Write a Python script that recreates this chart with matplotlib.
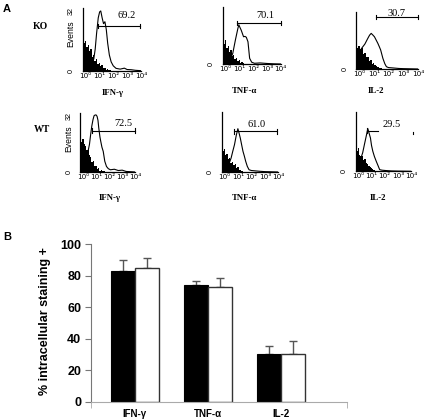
import matplotlib
matplotlib.use('Agg')
import matplotlib.pyplot as plt
import numpy as np

# ---------------- data ----------------
# Panel A: flow histograms (x in log10 decades, y in events, 0-32)
FILL_X = [-0.2, -0.1, 0.0, 0.1, 0.2, 0.3, 0.4, 0.5, 0.6, 0.7, 0.8, 0.9,
          1.0, 1.1, 1.2, 1.3, 1.4, 1.5, 1.6, 1.7, 1.8, 1.9]

KO_IFN_open_x = [-0.2, 0.1, 0.4, 0.6, 0.7, 0.8, 0.92, 1.02, 1.1, 1.2, 1.3, 1.4, 1.5,
                 1.6, 1.72, 1.85, 2.0, 2.2, 2.5, 2.8, 3.0, 3.3, 3.6, 4.0]
KO_IFN_open_y = [8, 5, 3, 6, 11, 19, 27, 30, 30.5, 27, 24, 25, 21,
                 14, 8, 4.5, 2.5, 1.2, 0.8, 1.3, 0.6, 0.5, 0.2, 0]
KO_IFN_fill = [16, 14, 15, 12, 13, 10, 11, 7, 8, 5, 6, 3.5, 4, 2.5, 3, 1.5, 1.2, 0.5,
               0.8, 0.3, 0.2, 0]

KO_TNF_open_x = [-0.2, 0.1, 0.35, 0.53, 0.72, 0.9, 0.97, 1.05, 1.14, 1.31, 1.42, 1.51,
                 1.63, 1.75, 1.9, 2.1, 2.5, 3.0, 3.5, 4.0]
KO_TNF_open_y = [8, 4, 2.5, 6, 13.5, 20, 22, 20.5, 19, 15.3, 15.5, 15,
                 12.5, 3.2, 1, 0.4, 0.6, 0.3, 0.1, 0]
KO_TNF_fill = [13, 11, 13.5, 9, 10, 7, 8, 4.5, 5, 3, 3.5, 1.5, 2, 0.8, 1, 0.3, 0.2, 0,
               0, 0, 0, 0]

KO_IL2_open_x = [-0.2, 0.0, 0.18, 0.4, 0.6, 0.72, 0.83, 0.95, 1.05, 1.15, 1.28, 1.38,
                 1.47, 1.62, 1.75, 1.86, 2.0, 2.3, 2.7, 3.0, 4.0]
KO_IL2_open_y = [8, 9, 11.6, 14, 17.2, 19, 20, 19, 18.1, 16.5, 14.4, 12.5,
                 10.7, 6, 3, 1.3, 0.8, 0.6, 0.3, 0.2, 0]
KO_IL2_fill = [14, 12, 13, 11, 12, 8.5, 9, 6.5, 7, 4.5, 5, 3, 3.5, 2, 1.5, 1, 0.5, 0.6,
               0.2, 0, 0, 0]

WT_IFN_open_x = [-0.2, 0.1, 0.25, 0.39, 0.5, 0.59, 0.68, 0.77, 0.85, 0.9, 1.0, 1.08,
                 1.15, 1.21, 1.3, 1.36, 1.45, 1.55, 1.67, 1.8, 1.94, 2.1, 2.4, 2.7,
                 3.0, 3.3, 4.0]
WT_IFN_open_y = [6, 5, 7, 11.2, 15, 20.3, 25, 28.4, 30.5, 30.8, 31, 30.2,
                 28, 23.9, 19, 16.7, 13.5, 11.2, 5.8, 3, 1.8, 1.2, 1.5, 0.8,
                 1, 0.3, 0]
WT_IFN_fill = [17.5, 16, 18, 15, 14, 12, 12.5, 9, 8, 5.5, 6, 3, 3.5, 1.5, 2, 0.8, 1,
               0.3, 0.5, 0.2, 0, 0]

WT_TNF_open_x = [-0.2, 0.1, 0.3, 0.5, 0.62, 0.75, 0.88, 1.0, 1.08, 1.18, 1.28, 1.38,
                 1.48, 1.58, 1.7, 1.83, 2.0, 2.3, 2.6, 3.0, 4.0]
WT_TNF_open_y = [7, 4, 3.5, 7.5, 11, 14.6, 19.5, 23.1, 21, 18.1, 14.5, 11,
                 8.5, 5.7, 3, 1.2, 0.8, 0.6, 0.4, 0.2, 0]
WT_TNF_fill = [13, 11, 12, 9, 9.5, 7, 7.5, 5, 5.5, 3.5, 4, 2, 2.5, 1, 1.2, 0.4, 0.2, 0,
               0, 0, 0, 0]

WT_IL2_open_x = [-0.2, 0.0, 0.2, 0.33, 0.46, 0.6, 0.72, 0.8, 0.92, 1.0, 1.1, 1.22,
                 1.36, 1.5, 1.62, 1.8, 2.1, 2.5, 3.0, 4.0]
WT_IL2_open_y = [8, 6, 7.2, 10, 14.4, 19, 23, 21, 18, 14, 10.8, 8,
                 5.4, 3, 0.9, 0.6, 0.4, 0.2, 0.1, 0]
WT_IL2_fill = [13, 11, 12.5, 9, 8, 8.5, 6, 6.5, 4.5, 4, 3, 2.5, 1.8, 1.2, 0.8, 0.4,
               0.2, 0, 0, 0, 0, 0]

GATE_PCT = ['69.2', '70.1', '30.7', '72.5', '61.0', '29.5']
GATE_START = [0.92, 0.85, 1.17, 0.71, 0.68, 0.67]
GATE_END = [3.95, 4.0, 3.98, 3.96, 3.93, 1.48]
GATE_LEVEL = [22.8, 22.9, 29.0, 22.4, 21.7, 21.9]
HIST_XTICKS = ['10⁰', '10¹', '10²', '10³', '10⁴']
ROW_LABELS = ['KO', 'WT']
MARKERS = ['IFN-γ', 'TNF-α', 'IL-2']

# Panel B: bar chart
CATS = ['IFN-γ', 'TNF-α', 'IL-2']
KO_MEAN = [82.9, 73.8, 30.0]
KO_ERR = [6.7, 2.5, 5.3]
WT_MEAN = [84.6, 73.0, 30.5]
WT_ERR = [6.7, 5.7, 8.2]
Y_TICKS = [0, 20, 40, 60, 80, 100]

# ---------------- figure ----------------
W, H = 430, 419
fig = plt.figure(figsize=(W / 100, H / 100), dpi=100)

SERIF = 'Liberation Serif'
SANS = 'Liberation Sans'


def px_axes(x0, y0, x1, y1):
    return fig.add_axes([x0 / W, 1 - y1 / H, (x1 - x0) / W, (y1 - y0) / H])


def ftext(x, y, s, **kw):
    fig.text(x / W, 1 - y / H, s, **kw)


hist_boxes = [
    (82.7, 8, 141, 70.7),
    (222.7, 7, 280.7, 64),
    (356, 12, 418, 69),
    (80.3, 113, 135.3, 172),
    (221.7, 112, 278.3, 172),
    (355.7, 112, 411, 171.3),
]
hist_data = [
    (KO_IFN_open_x, KO_IFN_open_y, KO_IFN_fill),
    (KO_TNF_open_x, KO_TNF_open_y, KO_TNF_fill),
    (KO_IL2_open_x, KO_IL2_open_y, KO_IL2_fill),
    (WT_IFN_open_x, WT_IFN_open_y, WT_IFN_fill),
    (WT_TNF_open_x, WT_TNF_open_y, WT_TNF_fill),
    (WT_IL2_open_x, WT_IL2_open_y, WT_IL2_fill),
]
label_pos = [(2.95, 28.0), (2.9, 27.3), (2.55, 31.0), (3.1, 26.3), (2.4, 25.4), (2.55, 25.4)]

for i, (box, (ox, oy, fy)) in enumerate(zip(hist_boxes, hist_data)):
    ax = px_axes(*box)
    ax.set_xlim(-0.2, 4.0)
    ax.set_ylim(0, 32)
    for s in ['top', 'right']:
        ax.spines[s].set_visible(False)
    for s in ['left', 'bottom']:
        ax.spines[s].set_linewidth(0.9)
    ax.plot(ox, oy, color='black', lw=0.8, zorder=2)
    ax.fill_between(FILL_X, fy, step='mid', color='black', lw=0, zorder=3)
    ax.set_xticks(range(5))
    ax.set_xticklabels(HIST_XTICKS, fontsize=5.2, family='DejaVu Sans')
    ax.tick_params(axis='x', length=0, pad=1.5)
    ax.set_yticks([])
    # gate
    g0, g1, gl = GATE_START[i], GATE_END[i], GATE_LEVEL[i]
    ax.plot([g0, g1], [gl, gl], color='black', lw=0.8, clip_on=False, zorder=4)
    ax.plot([g0, g0], [gl - 1.2, gl + 1.2], color='black', lw=0.8, clip_on=False)
    if i == 5:
        ax.plot([4.17, 4.17], [20.2, 21.4], color='black', lw=0.8, clip_on=False)
    else:
        ax.plot([g1, g1], [gl - 1.2, gl + 1.2], color='black', lw=0.8, clip_on=False)
    lx, ly = label_pos[i]
    ax.text(lx, ly, GATE_PCT[i], ha='center', va='center', fontsize=7.5,
            family=SERIF, clip_on=False, zorder=5,
            bbox=dict(facecolor='white', edgecolor='none', pad=0.3) if i == 5 else None)
    # y labels
    x0, y0, x1, y1 = box
    ftext(x0 - 11, y1, '0', rotation=90, ha='center', va='center', fontsize=5.2, family=SANS)
    if i in (0, 3):
        ftext(x0 - 11, y0 + 3, '32', rotation=90, ha='center', va='center', fontsize=5.2, family=SANS)
        ftext(x0 - 12, y0 + 26, 'Events', rotation=90, ha='center', va='center', fontsize=6.2, family=SANS)

# marker labels
marker_pos_ko = [(113, 93), (245, 91), (376, 91)]
marker_pos_wt = [(110, 198), (245, 198), (378, 198)]
for (x, y), m in zip(marker_pos_ko, MARKERS):
    ftext(x, y, m, ha='center', va='center', fontsize=6.3, family=SERIF, weight='bold')
for (x, y), m in zip(marker_pos_wt, MARKERS):
    ftext(x, y, m, ha='center', va='center', fontsize=6.3, family=SERIF, weight='bold')
ftext(40, 26.7, ROW_LABELS[0], ha='center', va='center', fontsize=7, family=SERIF, weight='bold')
ftext(42, 130, ROW_LABELS[1], ha='center', va='center', fontsize=7, family=SERIF, weight='bold')
ftext(3, 8.5, 'A', ha='left', va='center', fontsize=8, family=SANS, weight='bold')
ftext(3, 237, 'B', ha='left', va='center', fontsize=8, family=SANS, weight='bold')

# ---------------- panel B ----------------
axb = px_axes(91, 244, 347, 401.7)
x = np.arange(len(CATS))
w = 0.33
axb.bar(x - w / 2, KO_MEAN, w, color='black', edgecolor='black', lw=0.8, zorder=2)
axb.bar(x + w / 2, WT_MEAN, w, color='white', edgecolor='#333333', lw=1.0, zorder=2)
axb.errorbar(x - w / 2, KO_MEAN, yerr=[[0] * 3, KO_ERR], fmt='none', ecolor='#555555',
             elinewidth=1.0, capsize=3.2, capthick=1.0, zorder=1)
axb.errorbar(x + w / 2, WT_MEAN, yerr=[[0] * 3, WT_ERR], fmt='none', ecolor='#555555',
             elinewidth=1.0, capsize=3.2, capthick=1.0, zorder=1)
axb.set_xlim(-0.6, 2.9)
axb.set_ylim(0, 100)
axb.set_yticks(Y_TICKS)
axb.set_yticklabels([str(v) for v in Y_TICKS], fontsize=9, family=SANS, weight='bold')
axb.set_xticks(x)
axb.set_xticklabels(CATS, fontsize=7, family=SANS, weight='bold')
axb.set_xticks([-0.6, 2.9], minor=True)
axb.tick_params(axis='x', which='major', length=0, pad=5)
axb.tick_params(axis='x', which='minor', length=4, color='#aaaaaa', direction='out')
axb.tick_params(axis='y', length=4, color='#777777', direction='out', pad=3)
for s in ['top', 'right']:
    axb.spines[s].set_visible(False)
axb.spines['left'].set_color('#777777')
axb.spines['bottom'].set_color('#aaaaaa')
ftext(45, 321, '% intracellular staining +', rotation=90, ha='center', va='center',
      fontsize=9, family=SANS, weight='bold')

fig.savefig('out.png', dpi=100)
